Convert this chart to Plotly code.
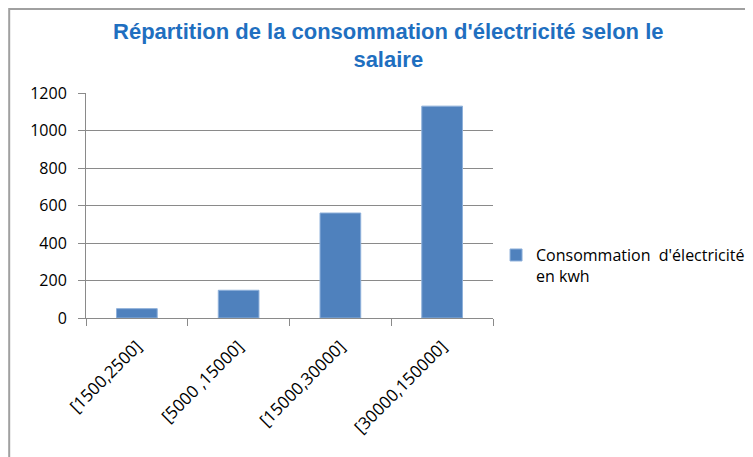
import plotly.graph_objects as go

# Data
categories = ["[1500,2500]", "[5000 ,15000]", "[15000,30000]", "[30000,150000]"]
consommation = [50, 148, 560, 1130]
series_name = "Consommation  d'électricité<br>en kwh"

bar_color = "#4F81BD"
grid_color = "#8A8A8A"

fig = go.Figure()
fig.add_trace(go.Bar(
    x=categories,
    y=consommation,
    name=series_name,
    marker=dict(color=bar_color, line=dict(color="#8EB0DA", width=1)),
    showlegend=True,
))

fig.update_layout(
    width=753,
    height=457,
    margin=dict(l=78, r=267, t=85, b=147),
    paper_bgcolor="white",
    plot_bgcolor="white",
    bargap=0.6,
    font=dict(family="Open Sans, sans-serif", size=15, color="#000000"),
    title=dict(
        text="Répartition de la consommation d'électricité selon le<br>salaire",
        x=0.505, xanchor="center",
        y=0.933, yanchor="top",
        font=dict(family="Liberation Sans, Arial, sans-serif", size=22, color="#1F6FC0", weight="bold"),
    ),
    showlegend=True,
    legend=dict(
        x=1.005, y=0.233, xanchor="left", yanchor="middle",
        valign="top",
        font=dict(family="Open Sans, sans-serif", size=16),
        bgcolor="rgba(0,0,0,0)",
        itemwidth=30,
    ),
    xaxis=dict(
        tickangle=-45,
        tickson="boundaries",
        ticks="outside",
        ticklen=7,
        tickcolor=grid_color,
        showline=True,
        linecolor=grid_color,
        linewidth=1,
        showgrid=False,
        ticklabelstandoff=11,
        tickfont=dict(family="Open Sans, sans-serif", size=17),
    ),
    yaxis=dict(
        range=[0, 1200],
        dtick=200,
        ticks="outside",
        ticklen=7,
        tickcolor=grid_color,
        showline=True,
        linecolor=grid_color,
        linewidth=1,
        showgrid=True,
        gridcolor=grid_color,
        gridwidth=1,
        zeroline=False,
        ticklabelstandoff=8,
        tickfont=dict(family="Open Sans, sans-serif", size=16),
    ),
    shapes=[dict(
        type="rect", xref="paper", yref="paper",
        x0=-0.1887, x1=2.0, y0=-1.0, y1=1.373,
        line=dict(color="#A0A0A0", width=2),
        fillcolor="rgba(0,0,0,0)",
        layer="below",
    )],
)

fig.write_html("out.html")
